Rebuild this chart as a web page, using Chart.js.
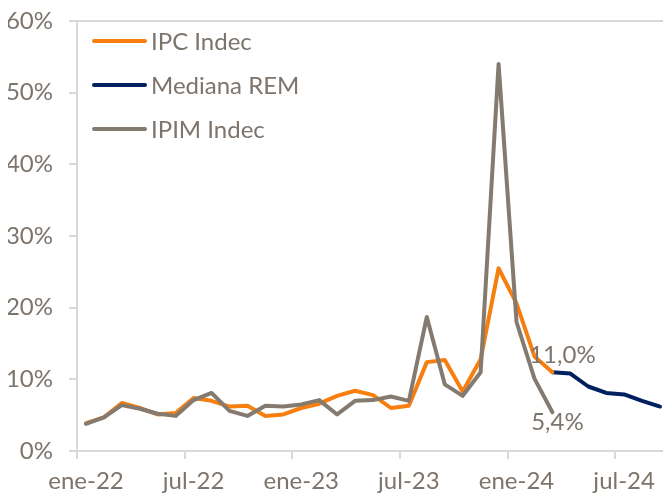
<!DOCTYPE html>
<html>
<head>
<meta charset="utf-8">
<script src="https://cdn.jsdelivr.net/npm/chart.js@4.4.1/dist/chart.umd.min.js"></script>
<style>
html, body { margin: 0; padding: 0; background: #fff; overflow: hidden; }
#wrap { width: 663px; height: 498px; overflow: hidden; }
#inner { width: 669px; height: 498px; }
</style>
</head>
<body>
<div id="wrap"><div id="inner"><canvas id="chartInflacion"></canvas></div></div>
<script>
const meses = ['ene', 'feb', 'mar', 'abr', 'may', 'jun', 'jul', 'ago', 'sep', 'oct', 'nov', 'dic'];
const labels = [];
['22', '23', '24'].forEach(a => meses.forEach(m => labels.push(m + '-' + a)));
labels.length = 33; // ene-22 .. sep-24

// variacion mensual, %
const ipc = [3.9, 4.7, 6.7, 6.0, 5.1, 5.3, 7.4, 7.0, 6.2, 6.3, 4.9, 5.1,
    6.0, 6.6, 7.7, 8.4, 7.8, 6.0, 6.3, 12.4, 12.7, 8.3, 12.8, 25.5,
    20.6, 13.2, 11.0];
const ipim = [3.8, 4.7, 6.4, 5.9, 5.2, 4.9, 7.1, 8.1, 5.6, 4.9, 6.3, 6.2,
    6.5, 7.1, 5.1, 7.0, 7.1, 7.6, 7.0, 18.7, 9.3, 7.7, 11.0, 54.0,
    18.0, 10.1, 5.4];
// REM desde mar-24
const remInicio = 26;
const rem = [11.0, 10.8, 9.0, 8.1, 7.9, 7.0, 6.2];

const yTicks = [0, 10, 20, 30, 40, 50, 60];

const textColor = '#7d746c';
const axisColor = '#d9d9d9';

const pad = (arr, start) => {
    const out = new Array(labels.length).fill(null);
    arr.forEach((v, i) => out[start + i] = v);
    return out;
};
const fmt = v => v.toFixed(1).replace('.', ',') + '%';

Chart.defaults.font.family = 'Lato';
Chart.defaults.font.size = 24;
Chart.defaults.color = textColor;

// etiquetas del ultimo dato
const etiquetas = {
    id: 'etiquetas',
    afterDatasetsDraw(chart) {
        const ctx = chart.ctx;
        const pIpc = chart.getDatasetMeta(0).data[ipc.length - 1];
        const pIpim = chart.getDatasetMeta(2).data[ipim.length - 1];
        ctx.save();
        ctx.font = '24px Lato';
        ctx.fillStyle = textColor;
        ctx.textAlign = 'center';
        ctx.textBaseline = 'middle';
        ctx.fillText(fmt(ipc[ipc.length - 1]), pIpc.x + 10, pIpc.y - 17);
        ctx.fillText(fmt(ipim[ipim.length - 1]), pIpim.x + 5, pIpim.y + 10);
        ctx.restore();
    }
};

// leyenda dentro del grafico, arriba a la izquierda
const leyenda = {
    id: 'leyenda',
    afterDraw(chart) {
        const ctx = chart.ctx;
        const area = chart.chartArea;
        const x0 = area.left + 17;
        ctx.save();
        ctx.font = '24px Lato';
        ctx.textBaseline = 'middle';
        ctx.lineWidth = 4;
        ctx.lineCap = 'round';
        chart.data.datasets.forEach((ds, i) => {
            const y = area.top + 20 + i * 44;
            ctx.strokeStyle = ds.borderColor;
            ctx.beginPath();
            ctx.moveTo(x0, y);
            ctx.lineTo(x0 + 51, y);
            ctx.stroke();
            ctx.fillStyle = textColor;
            ctx.fillText(ds.label, x0 + 57, y + 1);
        });
        ctx.restore();
    }
};

const data = {
    labels: labels,
    datasets: [{
        label: 'IPC Indec',
        data: pad(ipc, 0),
        borderColor: '#f77f10',
        order: 1
    }, {
        label: 'Mediana REM',
        data: pad(rem, remInicio),
        borderColor: '#002060',
        order: 2
    }, {
        label: 'IPIM Indec',
        data: pad(ipim, 0),
        borderColor: '#857a70',
        order: 0
    }]
};

const config = {
    type: 'line',
    data: data,
    options: {
        responsive: true,
        maintainAspectRatio: false,
        animation: false,
        layout: { padding: { top: 21, left: 8, right: 0, bottom: 2 } },
        elements: {
            point: { radius: 0 },
            line: { borderWidth: 4, tension: 0, borderCapStyle: 'round', borderJoinStyle: 'round' }
        },
        plugins: {
            tooltip: { enabled: false },
            legend: { display: false }
        },
        scales: {
            x: {
                offset: true,
                border: { color: axisColor, width: 2 },
                grid: {
                    offset: true,
                    drawOnChartArea: false,
                    tickLength: 8,
                    lineWidth: 2,
                    tickColor: c => c.index % 6 === 0 ? axisColor : 'rgba(0,0,0,0)'
                },
                ticks: {
                    autoSkip: false,
                    maxRotation: 0,
                    padding: 8,
                    callback: (v, i) => i % 6 === 0 ? labels[i] : ''
                },
                afterFit: s => { s.height = 45; s.paddingRight = 0; }
            },
            y: {
                min: 0,
                max: 60,
                afterBuildTicks: s => { s.ticks = yTicks.map(v => ({ value: v })); },
                border: { color: axisColor, width: 2 },
                grid: {
                    tickLength: 8,
                    lineWidth: 2,
                    color: c => c.tick && c.tick.value === 60 ? axisColor : 'rgba(0,0,0,0)',
                    tickColor: axisColor
                },
                ticks: {
                    padding: 16,
                    callback: v => v + '%'
                },
                afterFit: s => { s.width = 69; s.paddingTop = 0; s.paddingBottom = 0; }
            }
        }
    },
    plugins: [etiquetas, leyenda]
};

new Chart(
    document.getElementById('chartInflacion'),
    config
);
</script>
</body>
</html>
